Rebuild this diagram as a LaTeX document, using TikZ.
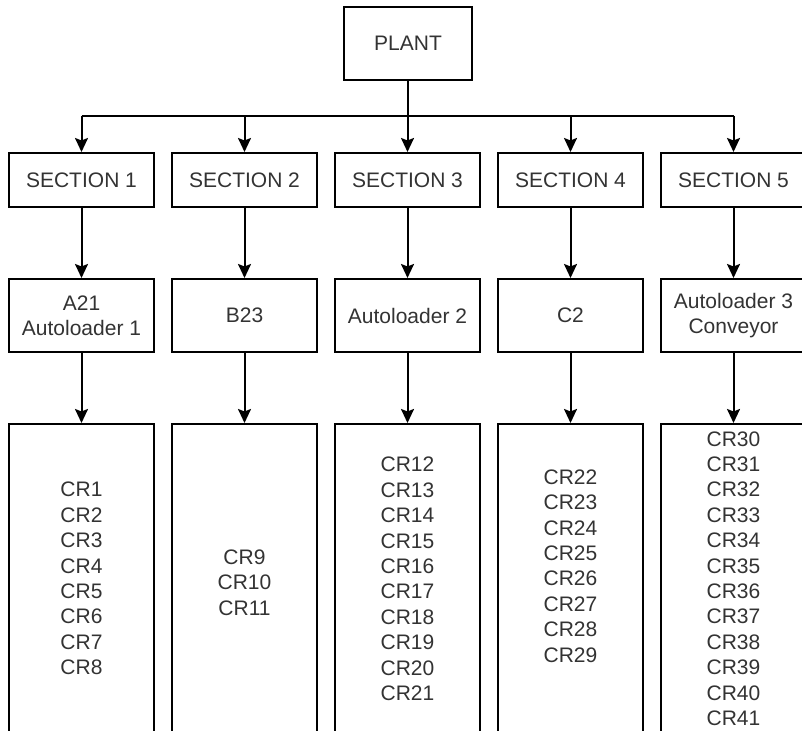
\documentclass[tikz,border=0pt]{standalone}
\usepackage{fontspec}
\setmainfont{Liberation Sans}
\usetikzlibrary{arrows.meta}

\tikzset{
	box/.style = {draw, line width = 2pt, minimum width = 145pt, align = center, text = black!80, font = \fontsize{21}{25.4}\selectfont},
	crlist/.style = {align = center, text = black!80, font = \fontsize{21}{25.4}\selectfont},
	arr/.style = {line width = 2pt, -{Stealth[length = 14pt, width = 13pt, inset = 2.5pt]}}
}

\begin{document}
\begin{tikzpicture}[x = 1pt, y = -1pt]
\clip (0,0) rectangle (802,730);
\fill[white] (0,0) rectangle (802,730);

\node[box, minimum width = 128pt, minimum height = 73pt] (plant) at (408,43.5) {PLANT};

\foreach \i in {1,...,5}
	\node[box, minimum height = 54pt] (sec\i) at ({81.5+163*(\i-1)},180) {SECTION \i};

\node[box, minimum height = 73pt] (unit1) at (81.5,315.5) {A21\\Autoloader 1};
\node[box, minimum height = 73pt] (unit2) at (244.5,315.5) {B23};
\node[box, minimum height = 73pt] (unit3) at (407.5,315.5) {Autoloader 2};
\node[box, minimum height = 73pt] (unit4) at (570.5,315.5) {C2};
\node[box, minimum height = 73pt] (unit5) at (733.5,315.5) {Autoloader 3\\Conveyor};

\foreach \i in {1,...,5}
	\node[box, minimum height = 320pt] (list\i) at ({81.5+163*(\i-1)},584) {};

\node[crlist] (cr1) at (list1.north |- 0,578.5) {CR1\\CR2\\CR3\\CR4\\CR5\\CR6\\CR7\\CR8};
\node[crlist] (cr2) at (list2.north |- 0,582.5) {CR9\\CR10\\CR11};
\node[crlist] (cr3) at (list3.north |- 0,579) {CR12\\CR13\\CR14\\CR15\\CR16\\CR17\\CR18\\CR19\\CR20\\CR21};
\node[crlist] (cr4) at (list4.north |- 0,566) {CR22\\CR23\\CR24\\CR25\\CR26\\CR27\\CR28\\CR29};
\node[crlist] (cr5) at (list5.north |- 0,578.5) {CR30\\CR31\\CR32\\CR33\\CR34\\CR35\\CR36\\CR37\\CR38\\CR39\\CR40\\CR41};

% bus from the plant to the sections
\coordinate (bus) at (0,116);
\draw[line width = 2pt] (plant.south) -- (plant.south |- bus);
\draw[line width = 2pt] (sec1.north |- bus) -- (sec5.north |- bus);

\foreach \i in {1,...,5}
{
	\draw[arr] (sec\i.north |- bus) -- (sec\i.north);
	\draw[arr] (sec\i.south) -- (unit\i.north);
	\draw[arr] (unit\i.south) -- (list\i.north);
}
\end{tikzpicture}
\end{document}
